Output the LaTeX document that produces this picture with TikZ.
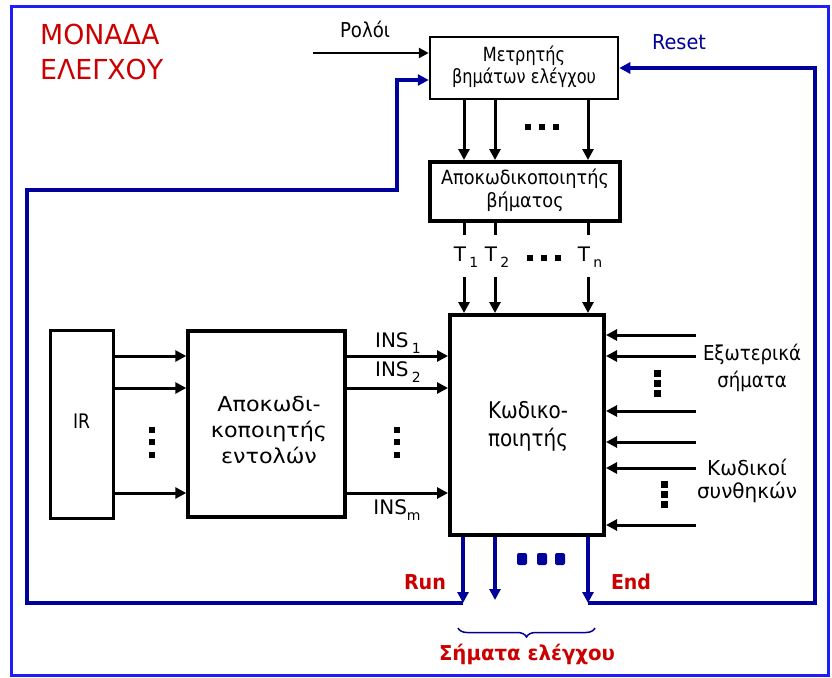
\documentclass[tikz,border=0pt]{standalone}
\usepackage{fontspec}
\setmainfont{DejaVu Sans}
\usetikzlibrary{arrows.meta,decorations.pathreplacing}
\definecolor{frameblue}{RGB}{30,30,250}
\definecolor{navyb}{RGB}{0,0,155}
\definecolor{darkred}{RGB}{204,0,0}
\newcommand{\fsz}[2]{\fontsize{#1}{#2}\selectfont}
\newcommand{\subtxt}[1]{\raisebox{-0.55ex}{\fontsize{14}{14}\selectfont#1}}
\newcommand{\tb}[2]{\resizebox{#1}{\height}{\begin{tabular}{@{}c@{}}#2\end{tabular}}}
\newcommand{\tl}[2]{\resizebox{#1}{\height}{\begin{tabular}{@{}l@{}}#2\end{tabular}}}
\begin{document}
\begin{tikzpicture}[x=1pt,y=-1pt,
  arr/.style={line width=3pt,-{Triangle[length=11pt,width=11pt]}},
  thinarr/.style={line width=2.5pt,-{Triangle[length=10pt,width=10pt]}},
  blk/.style={draw,line width=3pt,align=center,inner sep=0pt},
  bl/.style={navyb,line width=3.5pt},
  blarr/.style={bl,-{Triangle[length=11pt,width=11pt]}},
  lbl/.style={inner sep=0pt,align=center},
]
\useasboundingbox (0,0) rectangle (832,677);
\draw[frameblue,line width=3pt] (11.5,6.5) rectangle (828.5,675);

% title
\node[lbl,anchor=west,text=darkred,font=\fsz{27.5}{35}] (title) at (40,55) {\tl{123pt}{ΜΟΝΑΔΑ\\ΕΛΕΓΧΟΥ}};

% boxes
\node[blk,line width=2.5pt,minimum width=188,minimum height=62,font=\fsz{19.5}{22}] (counter) at (524,68) {\tb{144pt}{Μετρητής\\βημάτων ελέγχου}};
\node[blk,line width=4pt,minimum width=190,minimum height=59,font=\fsz{19.5}{23}] (stepdec) at (525,191.5) {\tb{168pt}{Αποκωδικοποιητής\\βήματος}};
\node[blk,line width=4pt,minimum width=154,minimum height=220] (enc) at (527,425) {};
\node[lbl,font=\fsz{23}{28}] (enctxt) at (528,427) {\tb{80pt}{Κωδικο-\\ποιητής}};
\node[blk,minimum width=63,minimum height=188,font=\fsz{20}{22}] (IR) at (81.5,424) {\tb{17pt}{IR}};
\node[blk,line width=3.5pt,minimum width=157,minimum height=186] (dec) at (266.5,424) {};
\node[lbl,font=\fsz{20.5}{26}] (dectxt) at (269,432) {\tb{116pt}{Αποκωδι-\\κοποιητής\\εντολών}};

% clock
\node[lbl,font=\fsz{20.5}{24}] (clk) at (365,33) {\tb{50pt}{Ρολόι}};
\coordinate (clkin) at (313,53);
\draw[thinarr] (clkin) -- (clkin -| counter.west);

% reset label
\node[lbl,text=navyb,font=\fsz{20.5}{24}] (reset) at (679,45) {\tb{54pt}{Reset}};

% x positions of the step lines
\coordinate (xa) at (464,0);
\coordinate (xb) at (495,0);
\coordinate (xc) at (588,0);
\draw[arr] (counter.south -| xa) -- (stepdec.north -| xa);
\draw[arr] (counter.south -| xb) -- (stepdec.north -| xb);
\draw[arr] (counter.south -| xc) -- (stepdec.north -| xc);
\foreach \x in {528,542,556} \fill (\x-3,124) rectangle (\x+3,130);

% T stubs and labels
\coordinate (stub) at (0,235);
\coordinate (tin) at (0,277);
\draw[line width=3pt] (stepdec.south -| xa) -- (stub -| xa);
\draw[line width=3pt] (stepdec.south -| xb) -- (stub -| xb);
\draw[line width=3pt] (stepdec.south -| xc) -- (stub -| xc);
\node[lbl,font=\fsz{20}{22}] (T1) at (466,257) {T\,\subtxt{1}};
\node[lbl,font=\fsz{20}{22}] (T2) at (497,257) {T\,\subtxt{2}};
\node[lbl,font=\fsz{20}{22}] (Tn) at (590,257) {T\,\subtxt{n}};
\foreach \x in {530,544,558} \fill (\x-3,255) rectangle (\x+3,261);
\draw[arr] (tin -| xa) -- (enc.north -| xa);
\draw[arr] (tin -| xb) -- (enc.north -| xb);
\draw[arr] (tin -| xc) -- (enc.north -| xc);

% IR -> decoder -> encoder
\coordinate (ya) at (0,356);
\coordinate (yb) at (0,388);
\coordinate (yc) at (0,493);
\foreach \y in {ya,yb,yc} {
  \draw[arr] (IR.east |- \y) -- (dec.west |- \y);
  \draw[arr] (dec.east |- \y) -- (enc.west |- \y);
}
\foreach \y in {430,442,455} {
  \fill (149,\y-3) rectangle (155,\y+3);
  \fill (394,\y-3) rectangle (400,\y+3);
}
\node[lbl,font=\fsz{20}{22}] (ins1) at (398,343) {INS\,\subtxt{1}};
\node[lbl,font=\fsz{20}{22}] (ins2) at (398,372) {INS\,\subtxt{2}};
\node[lbl,font=\fsz{20}{22}] (insm) at (397,510) {INS\subtxt{m}};

% right-hand inputs
\foreach \y/\n in {335/r1,356/r2,411/r3,442/r4,468/r5,525/r6} {
  \coordinate (\n) at (696,\y);
  \draw[arr] (\n) -- (\n -| enc.east);
}
\foreach \y in {373,383,393} \fill (654,\y-3) rectangle (661,\y+3.5);
\foreach \y in {484,494,504} \fill (661,\y-3) rectangle (668,\y+3.5);
\node[lbl,font=\fsz{20.5}{27}] (ext) at (752,369) {\tb{98pt}{Εξωτερικά\\σήματα}};
\node[lbl,font=\fsz{20.5}{23}] (cond) at (747,482) {\tb{100pt}{Κωδικοί\\συνθηκών}};

% control outputs
\coordinate (run) at (463,603);
\coordinate (endc) at (588,603);
\coordinate (mid) at (495,600);
\draw[blarr] (enc.south -| run) -- (run);
\draw[blarr] (enc.south -| mid) -- (mid);
\draw[blarr] (enc.south -| endc) -- (endc);
\foreach \x in {522,542,560} \fill[navyb,rounded corners=2pt] (\x-5,553) rectangle (\x+5,565);
\node[lbl,text=darkred,font=\bfseries\fsz{20.5}{24}] (runl) at (425,585) {\tb{42pt}{Run}};
\node[lbl,text=darkred,font=\bfseries\fsz{20.5}{24}] (endl) at (631,585) {\tb{40pt}{End}};

% feedback loops
\coordinate (lx) at (27,190);
\coordinate (kx) at (397,80);
\draw[blarr] (run) -- (run -| lx) -- (lx) -- (lx -| kx) -- (kx) -- (kx -| counter.west);
\coordinate (rx) at (815,68);
\draw[blarr] (endc) -- (endc -| rx) -- (rx) -- (counter.east |- rx);

% brace
\coordinate (bra) at (458,628);
\coordinate (brb) at (595,628);
\draw[navyb,line width=1.5pt,decorate,decoration={brace,mirror,amplitude=9pt}] (bra) -- (brb);
\node[lbl,text=darkred,font=\bfseries\fsz{20.5}{24}] (sig) at (527,656) {\tb{176pt}{Σήματα ελέγχου}};
\end{tikzpicture}
\end{document}
